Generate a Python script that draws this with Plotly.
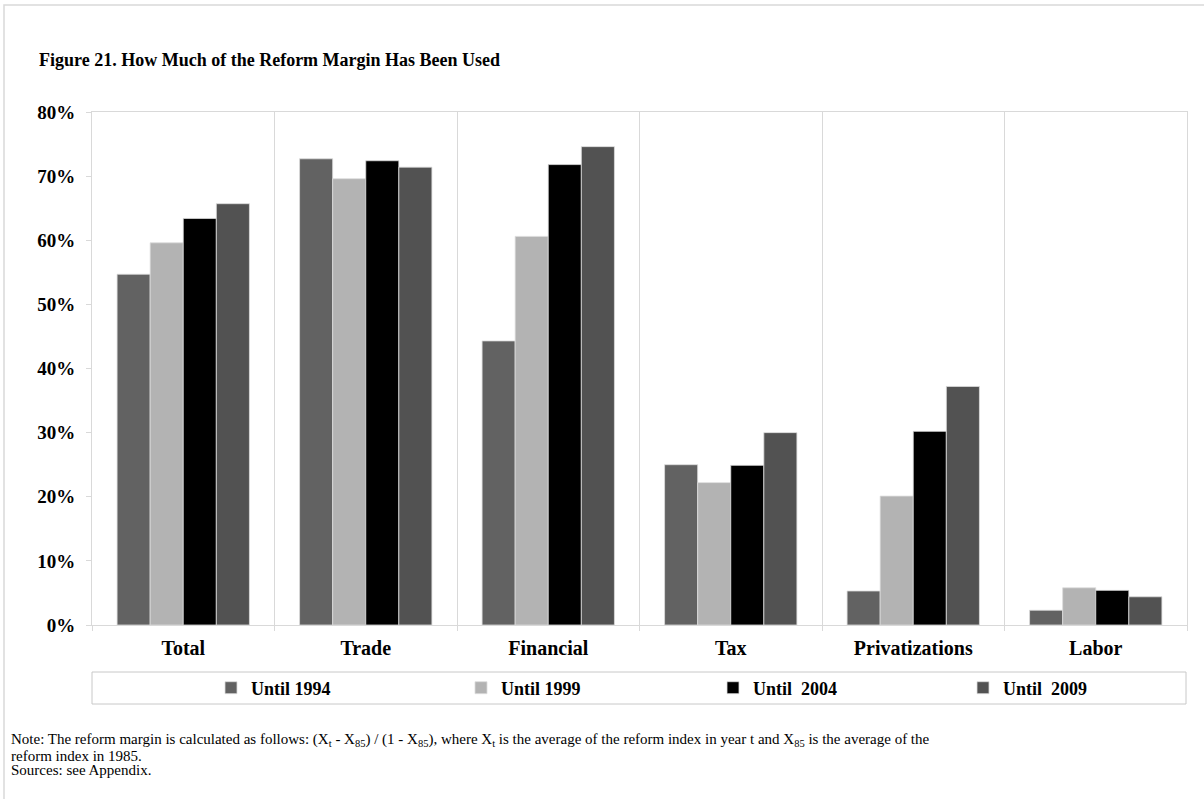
import plotly.graph_objects as go

categories = ["Total", "Trade", "Financial", "Tax", "Privatizations", "Labor"]
series_names = ["Until 1994", "Until 1999", "Until  2004", "Until  2009"]
until_1994 = [0.547, 0.727, 0.443, 0.250, 0.053, 0.023]
until_1999 = [0.596, 0.696, 0.606, 0.222, 0.201, 0.058]
until_2004 = [0.634, 0.724, 0.718, 0.249, 0.302, 0.054]
until_2009 = [0.657, 0.714, 0.746, 0.300, 0.372, 0.044]
series_values = [until_1994, until_1999, until_2004, until_2009]
series_colors = ["#626262", "#b3b3b3", "#000000", "#525252"]

FONT = "Liberation Serif"
GRID = "#d9d9d9"

# plot area in pixels
L, R, T, B = 92, 1187, 112, 625
W, H = R - L, B - T

def px(x):
    return (x - L) / W

def py(y):
    return (B - y) / H

legend_ids = ["legend", "legend2", "legend3", "legend4"]
legend_left = [211, 461, 713, 963]

fig = go.Figure()
for name, vals, col, lid in zip(series_names, series_values, series_colors, legend_ids):
    fig.add_trace(go.Bar(
        x=categories, y=vals, name=name, legend=lid,
        marker=dict(color=col, line=dict(color="#dcdcdc", width=0.8)),
    ))

legend_font = dict(family=FONT, size=18, color="black", weight="bold")
legends = {}
for lid, lx in zip(legend_ids, legend_left):
    legends[lid] = dict(
        orientation="h", x=px(lx), xanchor="left", y=py(688), yanchor="middle",
        font=legend_font, bgcolor="rgba(0,0,0,0)", borderwidth=0, itemwidth=30,
    )

note_font = dict(family=FONT, size=15, color="black")

fig.update_layout(
    width=1204, height=799,
    margin=dict(l=L, r=1204 - R, t=T, b=799 - B, autoexpand=False),
    paper_bgcolor="white", plot_bgcolor="white",
    barmode="group", bargap=0.275, bargroupgap=0,
    font=dict(family=FONT, color="black"),
    showlegend=True,
    xaxis=dict(
        type="category", showline=True, linecolor=GRID, linewidth=1, mirror=True,
        showgrid=True, gridcolor=GRID, gridwidth=1, tickson="boundaries",
        ticks="outside", ticklen=5, tickcolor=GRID, ticklabelstandoff=5,
        tickfont=dict(family=FONT, size=20, color="black", weight="bold"),
    ),
    yaxis=dict(
        range=[0, 0.8], dtick=0.1, tickformat=".0%",
        showline=True, linecolor=GRID, linewidth=1, mirror=True,
        showgrid=False, zeroline=False,
        ticks="outside", ticklen=5, tickcolor=GRID, ticklabelstandoff=7,
        tickfont=dict(family=FONT, size=19, color="black", weight="bold"),
    ),
    shapes=[
        dict(type="rect", xref="paper", yref="paper",
             x0=px(4), x1=px(1220), y0=py(815), y1=py(5),
             line=dict(color=GRID, width=1.5), fillcolor="rgba(0,0,0,0)", layer="below"),
        dict(type="rect", xref="paper", yref="paper",
             x0=px(92), x1=px(1186), y0=py(704), y1=py(672),
             line=dict(color="#c8c8c8", width=1), fillcolor="rgba(0,0,0,0)"),
    ],
    annotations=[
        dict(text="<b>Figure 21. How Much of the Reform Margin Has Been Used</b>",
             xref="paper", yref="paper", x=px(37), y=py(60), xanchor="left", yanchor="middle",
             showarrow=False, font=dict(family=FONT, size=18, color="black")),
        dict(text="Note: The reform margin is calculated as follows: (X<sub>t</sub> - X<sub>85</sub>) / (1 - X<sub>85</sub>), "
                  "where X<sub>t</sub> is the average of the reform index in year t and X<sub>85</sub> is the average of the",
             xref="paper", yref="paper", x=px(9), y=py(740), xanchor="left", yanchor="middle",
             showarrow=False, font=note_font),
        dict(text="reform index in 1985.",
             xref="paper", yref="paper", x=px(9), y=py(756), xanchor="left", yanchor="middle",
             showarrow=False, font=note_font),
        dict(text="Sources: see Appendix.",
             xref="paper", yref="paper", x=px(9), y=py(770), xanchor="left", yanchor="middle",
             showarrow=False, font=note_font),
    ],
    **legends,
)

fig.write_html("out.html", config={"displayModeBar": False},
               post_script="document.body.style.margin='0';document.body.style.overflow='hidden';")
